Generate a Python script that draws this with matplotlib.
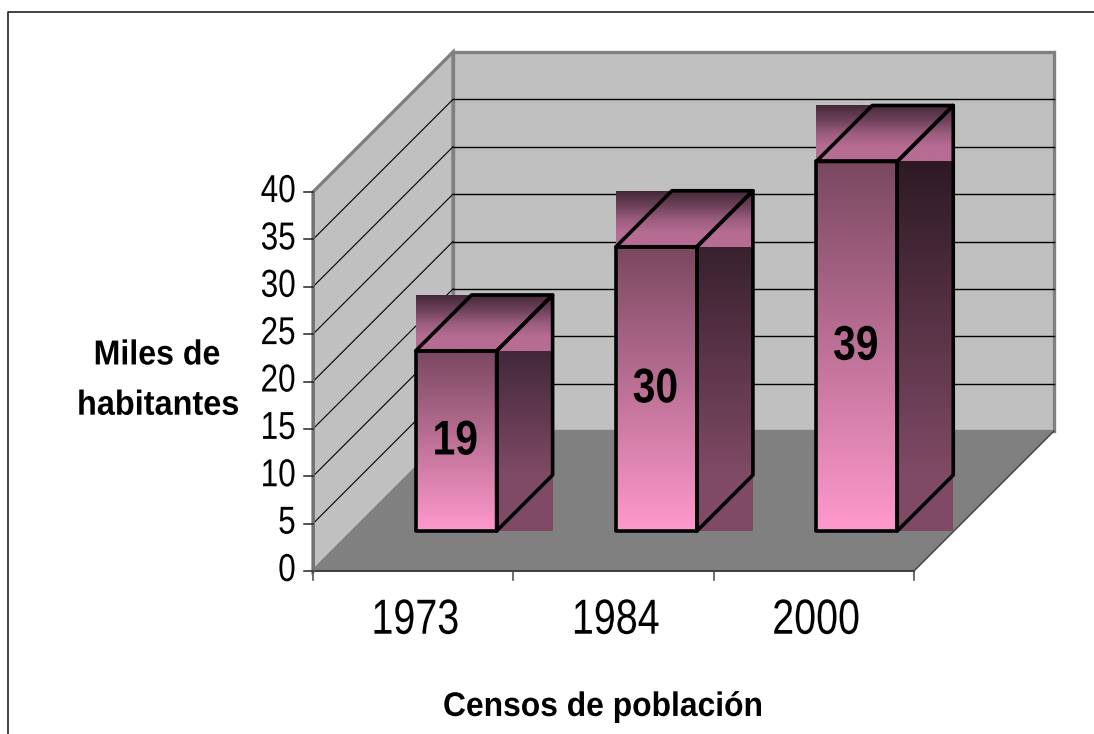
import numpy as np
import matplotlib
matplotlib.use('Agg')
import matplotlib.pyplot as plt
from matplotlib.patches import Polygon, Rectangle
from matplotlib.colors import LinearSegmentedColormap
from matplotlib.patheffects import AbstractPathEffect
from matplotlib.transforms import Affine2D

years = ['1973', '1984', '2000']
habitantes = [19, 30, 39]
y_ticks = [0, 5, 10, 15, 20, 25, 30, 35, 40]
side_dark = ['#42283a', '#38212e', '#2e1a24']

plt.rcParams['font.family'] = 'Liberation Sans'

W, H = 1094, 734
# escala: 200.33 px por categoria, 9.475 px por unidad, fondo 140 px
PX_X, PX_Y, DEPTH = 200.33, 9.475, 140.0
X0, Y0 = 313, 571

fig = plt.figure(figsize=(W / 100, H / 100), dpi=100)
ax = fig.add_axes([0, 0, 1, 1])
ax.axis('off')


class Squeeze(AbstractPathEffect):
    # texto angosto: la referencia esta estirada en vertical
    def __init__(self, sx, anchor='center'):
        super().__init__()
        self.sx, self.anchor = sx, anchor

    def draw_path(self, renderer, gc, tpath, affine, rgbFace=None):
        ext = tpath.get_extents()
        cx = ext.x1 if self.anchor == 'right' else (ext.x0 + ext.x1) / 2
        t = Affine2D().translate(-cx, 0).scale(self.sx, 1).translate(cx, 0)
        renderer.draw_path(gc, tpath, t + affine, rgbFace)


def pr(x, v, d=0.0):
    # d = profundidad 0..1, proyeccion oblicua
    return x + d * DEPTH / PX_X, v + d * DEPTH / PX_Y


def grad(x0, x1, v0, v1, colors, z):
    cmap = LinearSegmentedColormap.from_list('g', colors)
    ax.imshow(np.linspace(0, 1, 128)[:, None], cmap=cmap, aspect='auto',
              extent=(x0, x1, v0, v1), origin='upper', zorder=z, interpolation='bilinear')


GREY = '#808080'
WALL = '#c0c0c0'
# paredes y piso
ax.add_patch(Polygon([pr(0, 0, 1), pr(3, 0, 1), pr(3, 40, 1), pr(0, 40, 1)], fc=WALL, ec=GREY, lw=2.4, zorder=1))
ax.add_patch(Polygon([pr(0, 0), pr(0, 0, 1), pr(0, 40, 1), pr(0, 40)], fc=WALL, ec=GREY, lw=2.4, zorder=1))
ax.add_patch(Polygon([pr(0, 0), pr(3, 0), pr(3, 0, 1), pr(0, 0, 1)], fc=GREY, ec='none', zorder=2))
ax.plot(*zip(pr(3, 0), pr(3, 0, 1)), color='#404040', lw=1, zorder=2)

# lineas de division
for t in y_ticks[1:-1]:
    ax.plot(*zip(pr(0, t), pr(0, t, 1)), color='black', lw=0.8, zorder=3)
    ax.plot(*zip(pr(0, t, 1), pr(3, t, 1)), color='black', lw=1.0, zorder=3)

# ejes
ax.plot(*zip(pr(0, 0), pr(3, 0)), color='#333333', lw=1.3, zorder=4)
ax.plot(*zip(pr(0, 0), pr(0, 40)), color='#707070', lw=1.8, zorder=4)
for t in y_ticks:
    ax.plot([-9 / PX_X, 0], [t, t], color='#222222', lw=1.1, zorder=4)
    ax.text(-17 / PX_X, t, str(t), ha='right', va='center', fontsize=28, zorder=6,
            path_effects=[Squeeze(0.81, 'right')])
for i in range(4):
    ax.plot([i, i], [0, -9 / PX_Y], color='#444444', lw=1.1, zorder=4)

# barras
BW = 81 / PX_X
base = 40 / PX_Y
dx = 56 / PX_X
dv = 56 / PX_Y
for i, (yr, val) in enumerate(zip(years, habitantes)):
    x0 = i + 102.6 / PX_X
    x1 = x0 + BW
    top = base + val
    grad(x0, x1, base, top, ['#7a4860', '#ff99cc'], 5)
    grad(x1, x1 + dx, base + dv, top, [side_dark[i], '#7f4a65'], 5)
    ax.add_patch(Rectangle((x1, base), dx, dv, fc='#7f4a65', ec='none', zorder=5))
    grad(x0, x1 + dx, top, top + dv, ['#452a3a', '#6b4058', '#9a5c7e', '#b76c93', '#b76c93'], 5)
    # aristas
    k = dict(fc='none', ec='black', lw=2.6, joinstyle='round', zorder=6)
    ax.add_patch(Polygon([(x0, base), (x1, base), (x1, top), (x0, top)], **k))
    ax.add_patch(Polygon([(x0, top), (x1, top), (x1 + dx, top + dv), (x0 + dx, top + dv)], **k))
    ax.add_patch(Polygon([(x1, base), (x1 + dx, base + dv), (x1 + dx, top + dv), (x1, top)], **k))
    ax.text((x0 + x1) / 2 - 1 / PX_X, (base + top) / 2 - 0.1, str(val), ha='center', va='center',
            fontsize=35, fontweight='bold', zorder=7, path_effects=[Squeeze(0.84)])
    ax.text(i + 0.5 + 2 / PX_X, -5.3, yr, ha='center', va='center', fontsize=35.5, zorder=6,
            path_effects=[Squeeze(0.80)])

ax.text(-156 / PX_X, 22.8, 'Miles de', ha='center', va='center', fontsize=25,
        fontweight='bold', path_effects=[Squeeze(0.925)])
ax.text(-155 / PX_X, 17.5, 'habitantes', ha='center', va='center', fontsize=25,
        fontweight='bold', path_effects=[Squeeze(0.935)])
ax.text(290 / PX_X, -14.4, 'Censos de población', ha='center', va='center', fontsize=24.5,
        fontweight='bold', path_effects=[Squeeze(0.935)])

# marco
ax.plot((np.array([8, 8, W]) - X0) / PX_X, (Y0 - np.array([H, 12, 12])) / PX_Y, color='#222222', lw=1.2, zorder=8)

ax.set_xlim(-X0 / PX_X, (W - X0) / PX_X)
ax.set_ylim(-(H - Y0) / PX_Y, Y0 / PX_Y)
fig.savefig('out.png', dpi=100)
